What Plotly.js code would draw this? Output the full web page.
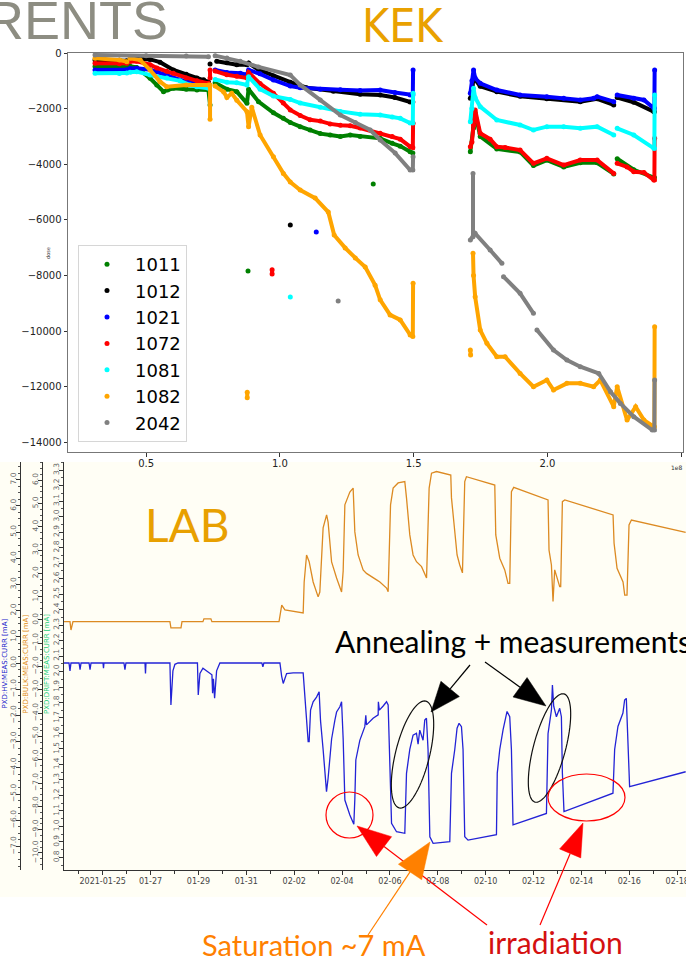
<!DOCTYPE html>
<html><head><meta charset="utf-8">
<script src="https://cdn.plot.ly/plotly-3.0.1.min.js"></script>
<style>html,body{margin:0;padding:0;background:#fff}#chart{width:686px;height:960px}</style>
</head><body><div id="chart"></div>
<script>
// ---------------- KEK dose data (x in units of 1e8) ----------------
const seriesNames = ['1011','1012','1021','1072','1081','1082','2042'];
const seriesColors = ['#008000','#000000','#0000ff','#ff0000','#00ffff','#ffa500','#808080'];

const x1011 = [0.309,0.40,0.428,null,0.44,0.465,0.515,0.540,0.565,0.58,0.602,0.65,0.69,0.733,0.739,null,
0.758,0.802,0.839,0.877,0.883,0.920,0.976,1.013,1.039,1.076,1.113,1.151,1.188,1.226,1.263,1.30,1.375,1.42,1.45,1.487,1.497,null,
1.712,1.724,1.730,1.749,1.811,1.898,1.948,1.998,2.061,2.123,2.186,2.248,null,2.261,2.323,2.398,2.400,null,
0.881,null,1.349];
const y1011 = [-490,-500,-470,null,-480,-520,-911,-1150,-1391,-1330,-1271,-1300,-1330,-1330,-1870,null,
-1071,-1300,-1390,-1811,-1300,-1750,-2150,-2350,-2500,-2650,-2770,-2900,-2950,-3000,-2950,-3000,-3070,-3250,-3350,-3550,-3600,null,
-3550,-2700,-2150,-3000,-3450,-3560,-4050,-3850,-4100,-3950,-3950,-4350,null,-3800,-4200,-4480,-4480,null,
-7840,null,-4710];

const x1012 = [0.309,0.40,0.428,null,0.44,0.465,0.515,0.552,0.602,0.65,0.690,0.715,0.733,null,0.739,null,
0.764,0.802,0.839,0.877,0.883,0.920,0.976,1.039,1.10,1.2,1.3,1.375,1.43,1.487,1.497,null,
1.712,1.718,1.724,1.730,1.749,1.811,1.898,1.998,2.123,2.186,2.248,null,2.261,2.323,2.398,2.400,null,
1.039];
const y1012 = [-250,-260,-280,null,-250,-200,-230,-330,-610,-760,-900,-960,-1040,null,-400,null,
-300,-350,-420,-420,-360,-600,-830,-1050,-1250,-1380,-1480,-1510,-1600,-1760,-1760,null,
-1631,-1500,-800,-950,-1200,-1390,-1560,-1650,-1750,-1650,-1870,null,-1600,-1770,-2110,-2110,null,
-6190];

const x1021 = [0.309,0.40,0.428,null,0.44,0.465,0.515,0.540,0.577,0.627,0.690,0.733,null,
0.758,0.802,0.852,0.877,0.883,0.926,0.976,1.039,1.076,1.151,1.226,1.30,1.375,1.43,1.487,1.497,1.498,null,
1.712,1.718,1.724,1.730,1.749,1.811,1.898,1.998,2.061,2.123,2.173,2.186,2.248,null,2.261,2.323,2.361,2.398,2.400,2.401,null,
1.136];
const y1021 = [-611,-620,-600,null,-560,-552,-600,-671,-800,-971,-1091,-1151,null,
-611,-700,-731,-780,-611,-750,-971,-1191,-1250,-1300,-1320,-1350,-1331,-1420,-1511,-1511,-611,null,
-1451,-1000,-611,-900,-1091,-1331,-1511,-1571,-1630,-1690,-1630,-1571,-1751,null,-1511,-1631,-1690,-1991,-1991,-611,null,
-6440];

const x1072 = [0.309,0.40,0.428,null,0.44,0.465,0.515,0.540,0.577,0.602,0.65,0.69,0.733,null,0.739,0.739,null,
0.758,0.802,0.839,0.877,0.883,0.926,0.976,1.013,1.039,1.076,1.113,1.151,1.188,1.226,1.263,1.30,1.375,1.42,1.45,1.487,1.497,1.498,null,
1.712,1.718,1.724,1.730,1.749,1.786,1.811,1.842,1.898,1.948,1.998,2.061,2.123,2.186,2.248,null,2.261,2.298,2.323,2.361,2.398,2.400,2.401,null,
0.971,0.971];
const y1072 = [-372,-390,-372,null,-310,-300,-420,-540,-660,-730,-900,-1000,-1091,null,-611,-900,null,
-650,-780,-840,-900,-700,-1100,-1450,-1800,-2050,-2250,-2400,-2450,-2550,-2600,-2620,-2700,-2890,-3000,-3100,-3370,-3400,-2530,null,
-3370,-3200,-2600,-2050,-2890,-3100,-3370,-3400,-3490,-3970,-3790,-4030,-3850,-3850,-4330,null,-3970,-4100,-4270,-4300,-4570,-4570,-3070,null,
-7800,-7950];

const x1081 = [0.309,0.40,0.428,null,0.44,0.465,0.515,0.577,0.627,0.665,0.690,0.733,null,
0.758,0.802,0.839,0.877,0.883,0.926,0.976,1.039,1.076,1.151,1.226,1.30,1.375,1.42,1.45,1.487,1.497,1.498,null,
1.712,1.718,1.724,1.730,1.749,1.811,1.898,1.948,1.998,2.061,2.123,2.186,2.248,null,2.261,2.323,2.398,2.400,2.401,null,
1.039];
const y1081 = [-731,-740,-720,null,-690,-671,-790,-900,-1000,-1151,-1211,-1271,null,
-951,-1050,-1071,-1150,-851,-1300,-1550,-1671,-1800,-1950,-2100,-2200,-2230,-2300,-2350,-2520,-2520,-1451,null,
-2470,-2000,-1271,-1600,-1931,-2410,-2590,-2770,-2650,-2650,-2710,-2650,-2950,null,-2710,-2950,-3430,-3430,-1511,null,
-8780];

const x1082 = [0.309,0.40,0.428,null,0.44,0.478,0.515,0.552,0.577,0.65,0.733,0.739,0.739,null,
0.758,0.790,0.802,0.820,0.839,0.877,0.883,0.895,0.926,0.976,1.013,1.039,1.076,1.132,1.181,1.203,1.244,1.282,1.319,1.356,1.375,1.412,1.450,1.487,1.497,1.498,null,
1.712,1.713,null,1.722,1.724,1.730,1.749,1.774,1.811,1.842,1.898,1.948,1.998,2.023,2.073,2.123,2.173,2.198,2.248,2.261,2.298,2.330,2.361,2.398,2.400,2.401,null,
0.878,0.878];
const y1082 = [-192,-252,-312,null,-192,-252,-611,-1031,-1211,-1150,-1150,-1150,-2386,null,
-1191,-1400,-1600,-1450,-1700,-2110,-2650,-1950,-2950,-3730,-4330,-4640,-4930,-5220,-5720,-6550,-7010,-7370,-7700,-8350,-8880,-9420,-9600,-10140,-10200,-8285,null,
-10684,-10864,null,-7206,-8000,-8765,-9965,-10444,-10924,-10924,-11524,-12003,-11764,-12123,-11883,-11883,-12003,-11764,-12723,-12003,-13203,-12723,-13203,-13442,-13442,-9845,null,
-12200,-12400];

const x2042 = [0.309,0.50,0.65,0.733,null,
0.758,0.802,0.852,0.920,1.039,1.076,1.151,1.226,1.282,1.338,1.375,1.431,1.487,1.497,1.498,null,
1.722,1.722,null,1.712,1.730,1.786,1.830,null,1.836,1.898,1.948,null,1.961,2.023,2.073,2.123,2.192,2.236,2.273,2.323,2.392,2.400,2.401,null,
1.218];
const y2042 = [-72,-96,-110,-132,null,
-96,-180,-300,-500,-790,-1150,-1690,-2230,-2500,-2770,-3130,-3600,-4210,-4210,-3730,null,
-4330,-6606,null,-6726,-6487,-7086,-7566,null,-8045,-8645,-9365,null,-9965,-10684,-11044,-11284,-11524,-12183,-12603,-13083,-13562,-13562,-11764,null,
-8920];

const kekX = [x1011,x1012,x1021,x1072,x1081,x1082,x2042];
const kekY = [y1011,y1012,y1021,y1072,y1081,y1082,y2042];
const kekXTicks = [0.5,1.0,1.5,2.0,2.5];

// ---------------- LAB currents ----------------
const labBulkTime = ['2021-01-23 08:12','2021-01-23 15:12','2021-01-23 16:12','2021-01-23 18:12','2021-01-27 19:24','2021-01-27 20:24','2021-01-28 06:30','2021-01-28 07:30','2021-01-29 04:30','2021-01-29 05:30','2021-01-29 12:30','2021-01-29 13:30','2021-02-01 08:48','2021-02-01 11:30','2021-02-01 14:42','2021-02-01 23:00','2021-02-02 09:00','2021-02-02 10:00','2021-02-02 12:24','2021-02-02 15:00','2021-02-02 19:00','2021-02-03 00:00','2021-02-03 01:42','2021-02-03 05:00','2021-02-03 08:30','2021-02-03 10:00','2021-02-03 13:30','2021-02-03 18:30','2021-02-03 23:30','2021-02-04 01:06','2021-02-04 02:48','2021-02-04 07:48','2021-02-04 11:06','2021-02-04 12:48','2021-02-04 16:06','2021-02-04 21:06','2021-02-05 00:30','2021-02-05 10:36','2021-02-05 13:54','2021-02-05 20:36','2021-02-05 22:12','2021-02-06 00:36','2021-02-06 03:12','2021-02-06 08:12','2021-02-06 14:54','2021-02-06 16:36','2021-02-06 19:54','2021-02-06 23:12','2021-02-07 02:36','2021-02-07 07:42','2021-02-07 12:42','2021-02-07 15:18','2021-02-07 17:42','2021-02-07 22:42','2021-02-08 13:00','2021-02-08 13:42','2021-02-08 17:00','2021-02-08 19:18','2021-02-08 22:00','2021-02-09 00:42','2021-02-09 03:00','2021-02-09 04:42','2021-02-10 09:06','2021-02-10 10:06','2021-02-10 14:06','2021-02-10 19:06','2021-02-10 22:24','2021-02-11 00:06','2021-02-11 01:48','2021-02-11 04:06','2021-02-12 14:30','2021-02-12 15:30','2021-02-12 17:54','2021-02-12 19:30','2021-02-12 21:12','2021-02-13 02:12','2021-02-13 03:12','2021-02-13 04:54','2021-02-13 07:18','2021-02-15 07:42','2021-02-15 08:42','2021-02-15 11:42','2021-02-15 17:42','2021-02-15 19:24','2021-02-15 21:42','2021-02-15 23:42','2021-02-16 02:06','2021-02-18 08:30'];
const labBulk = [-0.07,-0.07,-0.43,-0.07,-0.07,-0.34,-0.34,-0.07,-0.07,0.05,0.05,-0.07,-0.07,0.64,0.43,0.36,0.30,1.63,2.79,2.5,1.63,0.99,1.2,3.95,4.51,4.2,2.49,1.8,1.2,2.1,4.94,5.49,5.66,3.78,2.79,2.15,2.0,1.72,1.63,1.37,1.21,4.94,5.66,5.88,5.94,5.24,3.65,2.79,2.5,2.29,1.8,5.66,6.3,6.37,6.22,5.24,3.65,2.79,2.36,2.02,5.94,6.15,5.79,3.65,2.65,2.15,1.57,1.57,5.51,5.69,5.15,3.0,2.36,0.79,2.15,1.43,1.43,5.08,5.15,4.51,3.3,2.22,1.63,1.07,1.07,4.08,4.29,3.76];

const labHvTime = ['2021-01-23 08:12','2021-01-23 14:12','2021-01-23 15:12','2021-01-23 16:12','2021-01-24 00:18','2021-01-24 01:18','2021-01-24 02:18','2021-01-24 10:18','2021-01-24 11:18','2021-01-24 12:18','2021-01-25 00:18','2021-01-25 00:48','2021-01-25 01:18','2021-01-25 21:18','2021-01-25 22:18','2021-01-25 23:18','2021-01-26 18:24','2021-01-26 18:54','2021-01-26 19:24','2021-01-27 19:24','2021-01-27 20:24','2021-01-27 22:24','2021-01-28 00:24','2021-01-28 03:30','2021-01-28 23:00','2021-01-28 23:48','2021-01-29 01:30','2021-01-29 04:30','2021-01-29 13:30','2021-01-29 14:12','2021-01-29 15:00','2021-01-29 16:12','2021-01-29 18:12','2021-01-29 21:30','2021-01-31 15:36','2021-01-31 16:36','2021-01-31 17:36','2021-02-01 09:42','2021-02-01 11:24','2021-02-01 13:00','2021-02-01 16:24','2021-02-01 23:00','2021-02-02 09:00','2021-02-02 10:42','2021-02-02 12:24','2021-02-02 14:00','2021-02-02 15:00','2021-02-02 16:24','2021-02-02 19:00','2021-02-02 22:24','2021-02-03 01:00','2021-02-03 02:24','2021-02-03 05:00','2021-02-03 08:24','2021-02-03 10:00','2021-02-03 13:30','2021-02-03 16:48','2021-02-03 18:30','2021-02-03 21:48','2021-02-03 23:30','2021-02-04 01:06','2021-02-04 02:48','2021-02-04 07:48','2021-02-04 11:48','2021-02-04 12:48','2021-02-04 13:48','2021-02-04 17:48','2021-02-04 22:48','2021-02-04 23:48','2021-02-05 00:30','2021-02-05 07:06','2021-02-05 12:12','2021-02-05 12:24','2021-02-05 13:24','2021-02-05 17:12','2021-02-05 20:36','2021-02-05 22:12','2021-02-05 23:54','2021-02-06 01:36','2021-02-06 06:36','2021-02-06 14:54','2021-02-06 16:36','2021-02-06 19:54','2021-02-06 23:12','2021-02-07 02:36','2021-02-07 04:12','2021-02-07 05:54','2021-02-07 09:12','2021-02-07 10:54','2021-02-07 12:36','2021-02-07 14:12','2021-02-07 16:00','2021-02-07 19:18','2021-02-08 12:00','2021-02-08 13:42','2021-02-08 17:00','2021-02-08 19:18','2021-02-08 21:18','2021-02-08 23:42','2021-02-09 01:18','2021-02-09 03:00','2021-02-09 06:18','2021-02-10 10:48','2021-02-10 11:36','2021-02-10 14:06','2021-02-10 17:24','2021-02-10 20:48','2021-02-10 21:24','2021-02-11 00:06','2021-02-11 01:48','2021-02-11 03:24','2021-02-12 12:54','2021-02-12 14:30','2021-02-12 17:54','2021-02-12 18:54','2021-02-12 20:12','2021-02-12 22:54','2021-02-13 02:12','2021-02-13 03:54','2021-02-13 04:54','2021-02-13 06:30','2021-02-15 07:36','2021-02-15 09:18','2021-02-15 12:36','2021-02-15 17:36','2021-02-15 19:18','2021-02-15 21:00','2021-02-15 22:36','2021-02-16 00:18','2021-02-18 08:30'];
const labHv = [0,0,-0.3,0,0,-0.25,0,0,-0.25,0,0,-0.2,0,0,-0.25,0,0,-0.4,0,0,-1.6,-0.3,-0.05,0,0,-1.22,-0.4,-0.2,-0.45,-1.15,-0.6,-1.34,-0.3,0,0,-0.15,0,0,-0.5,-0.78,-0.4,-0.38,-0.38,-1.41,-2.2,-3.0,-3.0,-1.8,-1.48,-1.3,-1.1,-2.2,-3.3,-4.91,-4.4,-2.9,-2.18,-1.87,-1.67,-1.48,-2.9,-5.23,-5.8,-6.15,-5.2,-3.7,-2.95,-2.43,-2.0,-2.36,-2.11,-1.98,-1.48,-1.8,-1.64,-1.48,-1.6,-3.58,-6.12,-6.44,-6.5,-4.21,-3.3,-2.75,-2.68,-3.1,-2.56,-2.95,-2.18,-2.11,-3.3,-6.63,-6.88,-6.82,-4.21,-3.3,-2.49,-2.3,-2.43,-3.3,-6.63,-6.76,-6.55,-4.2,-3.3,-2.55,-2.0,-1.85,-2.05,-3.3,-6.18,-5.74,-2.7,-1.8,-0.84,-1.65,-2.05,-1.73,-2.05,-4.21,-5.67,-4.97,-3.3,-2.42,-1.91,-1.41,-1.35,-2.9,-4.72,-4.15];

const labTickVals = ['2021-01-25','2021-01-27','2021-01-29','2021-01-31','2021-02-02','2021-02-04','2021-02-06','2021-02-08','2021-02-10','2021-02-12','2021-02-14','2021-02-16','2021-02-18'];
const labTickText = ['2021-01-25','01-27','01-29','01-31','02-02','02-04','02-06','02-08','02-10','02-12','02-14','02-16','02-18'];
const labAxisTitles = ['PXD:HV:MEAS:CURR [mA]','PXD:BULK:MEAS:CURR [mA]','PXD:DRIFT:MEAS:CURR [mA]'];

// ---------------- build ----------------
const W = 686, H = 960;
const X = p => p / W, Y = p => 1 - p / H;

const traces = [];
for (let i = 0; i < seriesNames.length; i++) {
  traces.push({x: kekX[i], y: kekY[i], xaxis:'x', yaxis:'y', type:'scatter', mode:'lines+markers',
    line:{color: seriesColors[i], width:4}, marker:{color: seriesColors[i], size:5},
    connectgaps:false, showlegend:false, hoverinfo:'skip'});
}
for (let i = 0; i < seriesNames.length; i++) {
  traces.push({x:[null], y:[null], xaxis:'x', yaxis:'y', type:'scatter', mode:'markers', name: seriesNames[i],
    marker:{color: seriesColors[i], size:5}, showlegend:true});
}
traces.push({x: labBulkTime, y: labBulk, xaxis:'x2', yaxis:'y3', type:'scatter', mode:'lines',
  line:{color:'#dc8a22', width:1.3}, showlegend:false, hoverinfo:'skip'});
traces.push({x: labHvTime, y: labHv, xaxis:'x2', yaxis:'y2', type:'scatter', mode:'lines',
  line:{color:'#2323d6', width:1.3}, showlegend:false, hoverinfo:'skip'});
traces.push({x: [], y: [], xaxis:'x2', yaxis:'y4', type:'scatter', mode:'lines', showlegend:false, hoverinfo:'skip'});

const shapes = [];
shapes.push({type:'rect', xref:'paper', yref:'paper', x0:0, x1:1, y0:Y(897), y1:Y(462),
  fillcolor:'#fffef5', line:{width:0}, layer:'below'});

function ellipsePath(cx, cy, a, b, deg) {
  const th = deg * Math.PI / 180; let d = '';
  for (let i = 0; i <= 80; i++) {
    const t = i / 80 * 2 * Math.PI;
    const px = cx + a*Math.sin(t)*Math.sin(th) + b*Math.cos(t)*Math.cos(th);
    const py = cy - a*Math.sin(t)*Math.cos(th) + b*Math.cos(t)*Math.sin(th);
    d += (i === 0 ? 'M' : 'L') + X(px).toFixed(5) + ',' + Y(py).toFixed(5);
  }
  return d + 'Z';
}
shapes.push({type:'path', xref:'paper', yref:'paper', path: ellipsePath(412.5, 754.5, 55, 17, 14), line:{color:'#111', width:1.2}});
shapes.push({type:'path', xref:'paper', yref:'paper', path: ellipsePath(549.5, 748, 56, 16, 15), line:{color:'#111', width:1.2}});
shapes.push({type:'circle', xref:'paper', yref:'paper', x0:X(326), x1:X(373), y0:Y(838), y1:Y(792), line:{color:'#ff0000', width:1.2}});
shapes.push({type:'circle', xref:'paper', yref:'paper', x0:X(548), x1:X(625), y0:Y(821), y1:Y(774), line:{color:'#ff0000', width:1.2}});

function arrow(tx, ty, hx, hy, color, lw, L, w) {
  const dx = hx - tx, dy = hy - ty, len = Math.hypot(dx, dy);
  const ux = dx/len, uy = dy/len, bx = hx - ux*L, by = hy - uy*L, nx = -uy, ny = ux;
  shapes.push({type:'line', xref:'paper', yref:'paper', x0:X(tx), y0:Y(ty), x1:X(bx), y1:Y(by), line:{color:color, width:lw}});
  const p = 'M'+X(hx)+','+Y(hy)+'L'+X(bx+nx*w/2)+','+Y(by+ny*w/2)+'L'+X(bx-nx*w/2)+','+Y(by-ny*w/2)+'Z';
  shapes.push({type:'path', xref:'paper', yref:'paper', path:p, fillcolor:color, line:{color:color, width:0.5}});
}
arrow(470, 665, 431, 712, '#000', 1.2, 30, 24);
arrow(485, 662, 546, 706, '#000', 1.2, 32, 24);
arrow(487, 925, 357, 826, '#ff0000', 1.2, 34, 25);
arrow(540, 925, 583, 823, '#ff0000', 1.2, 33, 23);
arrow(368, 935, 430, 842, '#ff8000', 1.2, 36, 28);

const ann = [
  {text:'RENTS', x:X(170), y:Y(20), xanchor:'right', yanchor:'middle', font:{family:'Liberation Sans', size:54, color:'#8d8d82'}},
  {text:'KEK', x:X(403), y:Y(26), xanchor:'center', yanchor:'middle', font:{family:'Liberation Sans Narrow, DejaVu Sans Condensed', size:46, color:'#e9a100'}},
  {text:'dose', x:X(48), y:Y(253), xanchor:'center', yanchor:'middle', textangle:-90, font:{family:'DejaVu Sans', size:5, color:'#333'}},
  {text:'1e8', x:X(677), y:Y(467), xanchor:'center', yanchor:'middle', font:{family:'DejaVu Sans', size:6, color:'#333'}},
  {text:'LAB', x:X(187), y:Y(524), xanchor:'center', yanchor:'middle', font:{family:'Lato', size:46, color:'#e8a000'}},
  {text:'Annealing + measurements', x:X(333), y:Y(641), xanchor:'left', yanchor:'middle', font:{family:'Lato', size:30, color:'#000'}},
  {text:'Saturation ~7 mA', x:X(314), y:Y(944), xanchor:'center', yanchor:'middle', font:{family:'Lato', size:29, color:'#ff8000'}},
  {text:'irradiation', x:X(555), y:Y(942), xanchor:'center', yanchor:'middle', font:{family:'Lato', size:30, color:'#d41010'}},
  {text:labAxisTitles[0], x:X(4.5), y:Y(664), xanchor:'center', yanchor:'middle', textangle:-90, font:{family:'DejaVu Sans', size:7, color:'#2222cc'}},
  {text:labAxisTitles[1], x:X(25.5), y:Y(664), xanchor:'center', yanchor:'middle', textangle:-90, font:{family:'DejaVu Sans', size:7, color:'#e08a10'}},
  {text:labAxisTitles[2], x:X(47), y:Y(664), xanchor:'center', yanchor:'middle', textangle:-90, font:{family:'DejaVu Sans', size:7, color:'#22cc77'}}
].map(a => Object.assign({xref:'paper', yref:'paper', showarrow:false}, a));

const labTickFont = {family:'DejaVu Sans', size:7.5, color:'#666'};
const labY = {anchor:'free', tickformat:'.1f', tickangle:-90, ticks:'outside', ticklen:4, tickcolor:'#333',
  ticklabelstandoff:-3, showline:true, linecolor:'#333', linewidth:1, showgrid:false, zeroline:false, tickfont:labTickFont};
const layout = {
  width: W, height: H, autosize:false,
  margin:{l:0, r:0, t:0, b:0},
  paper_bgcolor:'#ffffff', plot_bgcolor:'rgba(0,0,0,0)',
  showlegend:true,
  legend:{x:X(78), y:Y(245), xanchor:'left', yanchor:'top', bgcolor:'rgba(255,255,255,0.9)', bordercolor:'#d6d6d6', borderwidth:1,
    font:{family:'DejaVu Sans', size:18, color:'#000'}, itemwidth:46},
  xaxis:{domain:[X(68), X(683)], range:[0.208, 2.507], anchor:'y', tickvals:kekXTicks, tickformat:'.1f',
    showline:true, mirror:true, linecolor:'#777', linewidth:1, ticks:'outside', ticklen:3.5, tickcolor:'#333', ticklabelstandoff:-2,
    showgrid:false, zeroline:false, tickfont:{family:'DejaVu Sans', size:10, color:'#222'}},
  yaxis:{domain:[Y(452), Y(53)], range:[-14352, 0], anchor:'x', dtick:2000, tick0:0, tickformat:'d',
    showline:true, mirror:true, linecolor:'#777', linewidth:1, ticks:'outside', ticklen:3.5, tickcolor:'#333',
    showgrid:false, zeroline:false, tickfont:{family:'DejaVu Sans', size:10, color:'#222'}},
  xaxis2:{domain:[X(63), 1], anchor:'y2', type:'date', range:['2021-01-23 08:12','2021-02-18 08:50'],
    tickmode:'array', tickvals:labTickVals, ticktext:labTickText, ticks:'outside', ticklen:4, tickcolor:'#333',
    ticklabeloverflow:'allow', ticklabelstandoff:-1,
    minor:{ticks:'outside', ticklen:3, dtick:86400000, tick0:'2021-01-24', tickcolor:'#333'},
    showline:true, linecolor:'#333', linewidth:1, showgrid:false, zeroline:false, tickfont:{family:'DejaVu Sans', size:8, color:'#444'}},
  yaxis2:Object.assign({}, labY, {domain:[Y(870), Y(462)], position:X(20), range:[-7.90, 7.672], dtick:1, tick0:0,
    minor:{ticks:'outside', ticklen:2.5, dtick:0.25, tickcolor:'#555'}}),
  yaxis3:Object.assign({}, labY, {overlaying:'y2', position:X(42), range:[-10.73, 6.78], dtick:1, tick0:0,
    minor:{ticks:'outside', ticklen:2.5, dtick:0.25, tickcolor:'#555'}}),
  yaxis4:Object.assign({}, labY, {overlaying:'y2', position:X(63), range:[0.719, 3.352], dtick:0.1, tick0:0,
    minor:{ticks:'outside', ticklen:2.5, dtick:0.05, tickcolor:'#555'}}),
  shapes: shapes,
  annotations: ann
};

Plotly.newPlot('chart', traces, layout, {displayModeBar:false, staticPlot:true});
</script></body></html>
